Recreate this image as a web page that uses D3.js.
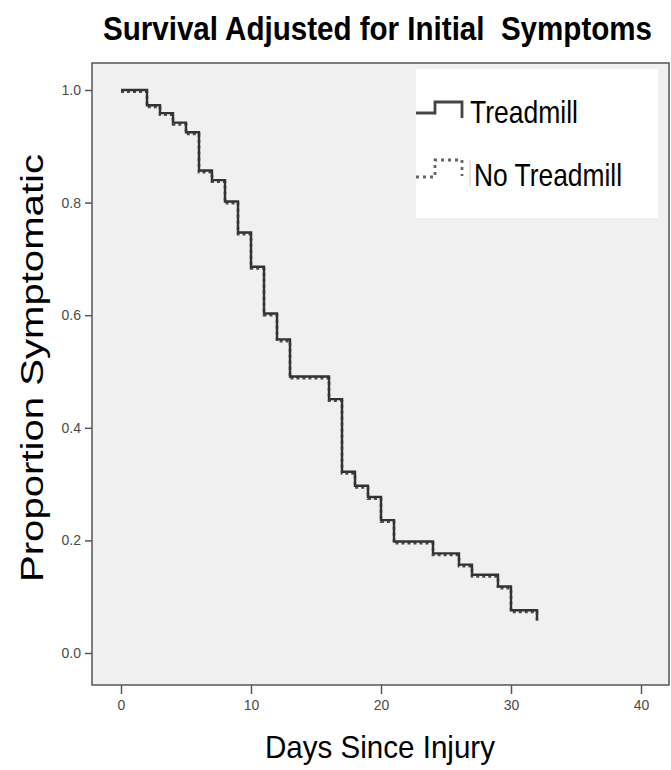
<!DOCTYPE html>
<html>
<head>
<meta charset="utf-8">
<script src="https://cdn.jsdelivr.net/npm/d3@7"></script>
<style>
  html, body { margin: 0; padding: 0; background: #ffffff; }
  svg { display: block; }
</style>
</head>
<body>
<svg id="chart" width="671" height="770"></svg>
<script>
// ---- Data ----
const days = [0, 2, 3, 4, 5, 6, 7, 8, 9, 10, 11, 12, 13, 16, 17, 18, 19, 20, 21, 24, 26, 27, 29, 30, 32];
const treadmill = [1.0, 0.973, 0.959, 0.942, 0.925, 0.857, 0.840, 0.802, 0.747, 0.686, 0.603, 0.557, 0.491, 0.451, 0.322, 0.297, 0.277, 0.236, 0.198, 0.177, 0.157, 0.139, 0.118, 0.076, 0.059];
const noTreadmill = [0.997, 0.970, 0.956, 0.939, 0.922, 0.854, 0.837, 0.799, 0.744, 0.683, 0.600, 0.554, 0.488, 0.448, 0.319, 0.294, 0.274, 0.233, 0.195, 0.174, 0.154, 0.136, 0.115, 0.073, 0.056];
const xTicks = [0, 10, 20, 30, 40];
const yTicks = [0.0, 0.2, 0.4, 0.6, 0.8, 1.0];
const seriesNames = ["Treadmill", "No Treadmill"];
const title = "Survival Adjusted for Initial  Symptoms";
const xLabel = "Days Since Injury";
const yLabel = "Proportion Symptomatic";

// ---- Layout ----
const svg = d3.select("#chart");
const frame = { left: 92, right: 669, top: 63, bottom: 685 };
const x = d3.scaleLinear().domain([0, 40]).range([121, 641]);
const y = d3.scaleLinear().domain([0, 1]).range([653, 90]);
const FONT = "'Liberation Sans', Arial, sans-serif";

// plot background / frame
svg.append("rect")
  .attr("x", frame.left).attr("y", frame.top)
  .attr("width", frame.right - frame.left).attr("height", frame.bottom - frame.top)
  .attr("fill", "#f0f0f0").attr("stroke", "#555").attr("stroke-width", 1.5);

// axes
const yAxis = svg.append("g").attr("transform", `translate(${frame.left},0)`)
  .call(d3.axisLeft(y).tickValues(yTicks).tickFormat(d3.format(".1f")).tickSize(7).tickPadding(4));
const xAxis = svg.append("g").attr("transform", `translate(0,${frame.bottom})`)
  .call(d3.axisBottom(x).tickValues(xTicks).tickFormat(d3.format("d")).tickSize(9).tickPadding(6));
[yAxis, xAxis].forEach(g => {
  g.select(".domain").remove();
  g.selectAll(".tick line").attr("stroke", "#555").attr("stroke-width", 1.5);
  g.selectAll(".tick text").attr("fill", "#4a4a4a")
    .style("font-family", FONT).style("font-size", "14px");
});

// step curves
const line = d3.line().x(d => x(d[0])).y(d => y(d[1])).curve(d3.curveStepAfter);
const dataNo = days.map((d, i) => [d, noTreadmill[i]]);
const dataTm = days.map((d, i) => [d, treadmill[i]]);

svg.append("path").datum(dataNo)
  .attr("d", line).attr("fill", "none")
  .attr("stroke", "#4a4a4a").attr("stroke-width", 2.6)
  .attr("stroke-dasharray", "3,3");
svg.append("path").datum(dataTm)
  .attr("d", line).attr("fill", "none")
  .attr("stroke", "#333").attr("stroke-width", 2.4);

// legend
const lg = svg.append("g");
lg.append("rect").attr("x", 416).attr("y", 69).attr("width", 242).attr("height", 149).attr("fill", "#ffffff");
lg.append("path").attr("d", "M416,113 H435 V102 H462 V118")
  .attr("fill", "none").attr("stroke", "#444").attr("stroke-width", 2.8);
lg.append("path").attr("d", "M416,177 H435 V160 H462 V176")
  .attr("fill", "none").attr("stroke", "#666").attr("stroke-width", 2.8).attr("stroke-dasharray", "3,4");
lg.append("line").attr("x1", 470).attr("x2", 470).attr("y1", 160).attr("y2", 187)
  .attr("stroke", "#ccc").attr("stroke-width", 1);
lg.append("text").attr("transform", "translate(470,123) scale(1,1.15)").text(seriesNames[0])
  .attr("textLength", 108).attr("lengthAdjust", "spacingAndGlyphs")
  .style("font-family", FONT).style("font-size", "28px").attr("fill", "#000");
lg.append("text").attr("transform", "translate(474,186) scale(1,1.15)").text(seriesNames[1])
  .attr("textLength", 148).attr("lengthAdjust", "spacingAndGlyphs")
  .style("font-family", FONT).style("font-size", "28px").attr("fill", "#000");

// title
svg.append("text").attr("transform", "translate(103,40) scale(1,1.3)").text(title)
  .attr("textLength", 549).attr("lengthAdjust", "spacingAndGlyphs")
  .style("white-space", "pre")
  .style("font-family", FONT)
  .style("font-weight", "bold").style("font-size", "26px").attr("fill", "#000");

// axis labels
svg.append("text").attr("transform", "translate(265,758) scale(1,1.1)").text(xLabel)
  .attr("textLength", 230).attr("lengthAdjust", "spacingAndGlyphs")
  .style("font-family", FONT).style("font-size", "29px").attr("fill", "#000");
svg.append("text").attr("transform", "translate(43,582) rotate(-90)").text(yLabel)
  .attr("textLength", 428).attr("lengthAdjust", "spacingAndGlyphs")
  .style("font-family", FONT).style("font-size", "32px").attr("fill", "#000");
</script>
</body>
</html>
